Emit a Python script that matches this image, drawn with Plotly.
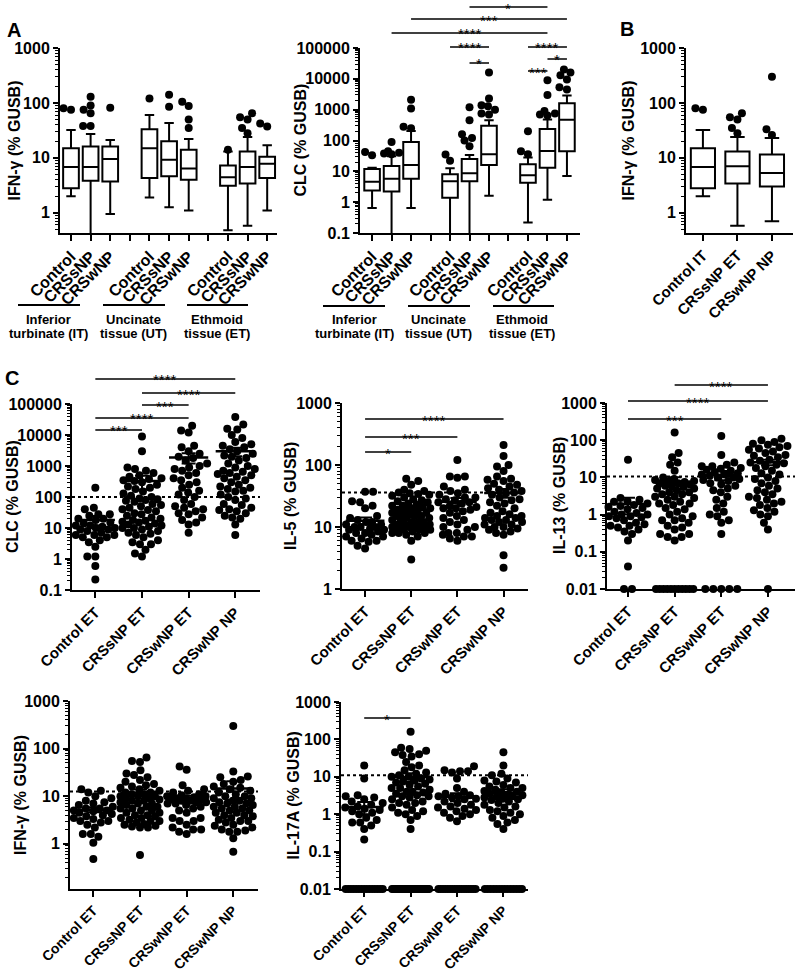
import numpy as np
import plotly.graph_objects as go

W, H = 800, 973
FONT = "Liberation Sans"

# ======================= DATA =======================
# ---- Panel A: box-plot summaries; order IT, UT, ET  x  Control, CRSsNP, CRSwNP
A_groups = ["Control", "CRSsNP", "CRSwNP"]
A_tissue_line1 = ["Inferior", "Uncinate", "Ethmoid"]
A_tissue_line2 = ["turbinate (IT)", "tissue (UT)", "tissue (ET)"]

A_ifng_low = [2.0, 0, 0.95, 1.9, 1.25, 1.1, 0.48, 0.58, 1.1]
A_ifng_q1 = [2.8, 3.8, 3.7, 4.3, 4.6, 4.0, 3.1, 3.4, 4.3]
A_ifng_med = [6.8, 6.8, 9.5, 15, 9.2, 6.4, 4.4, 6.8, 7.8]
A_ifng_q3 = [15, 16, 16, 33, 20, 14, 7.2, 13, 10.5]
A_ifng_up = [32, 27, 21, 60, 43, 22, 13, 24, 17]
A_ifng_out = [[75, 80], [38, 38, 65, 75, 90, 130], [82], [120], [85, 140],
              [35, 50, 88, 105], [14], [28, 35, 50, 55, 65], [37, 42]]

A_clc_low = [0.65, 0, 0.65, 0, 0, 1.6, 0.22, 1.2, 7]
A_clc_q1 = [2.4, 2.2, 5.8, 1.4, 4.8, 16, 4.3, 13, 45]
A_clc_med = [4.6, 5.7, 16, 4.8, 8.6, 36, 7.4, 46, 470]
A_clc_q3 = [12, 15, 90, 8, 25, 300, 17, 235, 1600]
A_clc_up = [13, 31, 205, 12.5, 34, 450, 28, 480, 2900]
A_clc_out = [[33, 42], [36, 38, 40, 45, 90], [250, 280, 1100, 2100], [22, 35],
             [65, 100, 120, 160, 450, 1200], [700, 750, 1000, 1300, 1400, 2300, 16000],
             [36, 45, 200], [650, 700, 750, 900, 3000, 9000],
             [4500, 5300, 9500, 13000, 16000, 20000]]

A_clc_sig_pairs = [(5, 9), (2, 10), (1, 9), (4, 6), (5, 6), (8, 10), (9, 10), (8, 9)]
A_clc_sig_text = ["*", "***", "****", "****", "*", "****", "*", "***"]

# ---- Panel B
B_groups = ["Control IT", "CRSsNP ET", "CRSwNP NP"]
B_ifng_low = [2.0, 0.58, 0.7]
B_ifng_q1 = [2.8, 3.4, 3.0]
B_ifng_med = [6.8, 7.0, 5.3]
B_ifng_q3 = [15, 13, 11.5]
B_ifng_up = [32, 24, 23]
B_ifng_out = [[75, 80], [28, 35, 50, 55, 65], [26, 33, 300]]

# ---- Panel C: individual values (0 = undetectable)
C_groups = ["Control ET", "CRSsNP ET", "CRSwNP ET", "CRSwNP NP"]

clc_ctrl = [200, 45, 40, 28, 28, 25, 20, 20, 18, 15, 14, 12, 12, 11, 10, 10, 9, 9, 8, 7, 6, 6, 6,
            5, 5, 4, 3.5, 2.5, 1.2, 1.2, 0.6, 0.22]
clc_ssnp = [9000, 3000, 900, 800, 700, 600, 500, 450, 400, 380, 350, 330, 300, 250, 220, 200, 180,
            150, 130, 110, 100, 90, 85, 80, 75, 70, 60, 55, 50, 45, 40, 38, 35, 30, 28, 25, 22, 20,
            18, 17, 16, 15, 14, 13, 12, 11, 10, 10, 9, 8, 7, 6.5, 6, 5, 4, 3.5, 3, 3, 2, 1.5, 1.2]
clc_wnp_et = [20000, 14000, 12000, 4500, 4000, 3000, 2500, 2000, 1800, 1500, 1200, 1000, 900, 800,
              700, 600, 500, 400, 350, 300, 250, 200, 160, 140, 120, 100, 80, 60, 50, 45, 40, 35,
              30, 28, 22, 18, 15, 13, 7]
clc_wnp_np = [38000, 22000, 16000, 15000, 10000, 8000, 6000, 5000, 4500, 4000, 3500, 3000, 2500,
              2200, 2000, 1800, 1500, 1200, 1000, 900, 800, 700, 650, 600, 550, 500, 450, 400, 350,
              300, 250, 220, 200, 180, 160, 150, 120, 100, 90, 80, 60, 55, 45, 40, 38, 35, 30, 25,
              22, 20, 13, 6]

il5_ctrl = [37, 37, 26, 25, 22, 20, 15, 14, 13, 12, 12, 11, 11, 10, 10, 10, 9.5, 9, 9, 8.5, 8, 8,
            7.5, 7, 7, 6.5, 6, 6, 5.8, 5, 4.5]
il5_ssnp = [60, 55, 48, 40, 38, 36, 35, 34, 33, 32, 30, 28, 27, 26, 25, 24, 23, 22, 22, 21, 20, 20,
            19, 18, 18, 17, 17, 16, 16, 15, 15, 15, 14, 14, 13, 13, 12, 12, 12, 11, 11, 11, 10, 10,
            10, 10, 10, 10, 9.5, 9, 9, 9, 8.5, 8, 8, 8, 7.5, 7, 6, 3]
il5_wnp_et = [120, 65, 65, 62, 45, 40, 38, 35, 33, 30, 30, 28, 27, 25, 25, 24, 22, 21, 20, 20, 19,
              18, 17, 15, 14, 13, 12, 11, 10, 10, 9, 8, 8, 7.5, 7, 7, 6.5, 6]
il5_wnp_np = [210, 140, 100, 95, 80, 65, 60, 58, 55, 50, 48, 45, 42, 40, 38, 36, 35, 33, 30, 28, 27,
              25, 24, 22, 20, 18, 17, 16, 15, 15, 14, 14, 13, 13, 12, 12, 11, 11, 10, 10, 9.5, 9,
              8.5, 8, 7.5, 3.5, 2.2]

il13_ctrl = [30, 2.8, 2.5, 2.3, 2.2, 2, 1.8, 1.7, 1.6, 1.5, 1.4, 1.2, 1.1, 1.0, 1.0, 0.9, 0.9, 0.85,
             0.8, 0.7, 0.6, 0.55, 0.5, 0.5, 0.45, 0.4, 0.35, 0.3, 0.2, 0.04, 0, 0]
il13_ssnp = [160, 45, 35, 25, 22, 15, 10, 9, 8.5, 8, 8, 7.5, 7, 7, 6.5, 6, 6, 5.5, 5, 5, 4.5, 4, 4,
             3.5, 3.5, 3, 3, 2.8, 2.5, 2.2, 2, 2, 1.8, 1.5, 1.4, 1.2, 1, 0.9, 0.8, 0.7, 0.7, 0.6,
             0.5, 0.45, 0.4, 0.3, 0.3, 0.25, 0.25, 0.2, 0, 0, 0, 0, 0, 0, 0, 0, 0, 0, 0]
il13_wnp_et = [130, 40, 25, 22, 20, 20, 18, 17, 16, 15, 14, 13, 12, 12, 11, 10, 10, 9, 8.5, 8, 7,
               6.5, 6, 5, 4.5, 4, 3, 2.5, 2, 1.5, 1.2, 1, 0.9, 0.7, 0.6, 0.3, 0, 0, 0, 0, 0]
il13_wnp_np = [110, 100, 90, 80, 75, 70, 65, 60, 55, 50, 45, 40, 38, 35, 30, 28, 25, 24, 22, 20, 18,
               15, 13, 12, 10, 9, 8, 7, 6, 5, 4.5, 4, 3.5, 3, 2.8, 2.5, 2.2, 2, 1.8, 1.5, 1.3, 1.2,
               1, 0.9, 0.6, 0.4, 0]

ifn_ctrl = [14, 13, 12, 10, 9, 8, 7.5, 7, 6.5, 6, 5.5, 5.5, 5, 5, 4.8, 4.5, 4.2, 4, 3.8, 3.5, 3.3,
            3, 3, 2.8, 2.5, 2.2, 1.6, 1.6, 1.4, 1.05, 0.48]
ifn_ssnp = [65, 55, 52, 35, 30, 28, 25, 22, 20, 18, 17, 16, 15, 14, 13, 12, 12, 11, 11, 10, 10, 10,
            9, 9, 8.5, 8, 8, 7.5, 7, 7, 6.5, 6, 6, 5.5, 5.5, 5, 5, 4.5, 4.5, 4, 4, 3.8, 3.5, 3.5,
            3.2, 3, 3, 2.8, 2.6, 2.5, 2.4, 2.3, 2.2, 2.2, 0.58]
ifn_wnp_et = [42, 36, 17, 14, 13, 12, 11, 10.5, 10, 10, 9.5, 9, 9, 8.5, 8.5, 8, 8, 7.5, 7.5, 7, 7,
              6.5, 6, 5.5, 5, 4.5, 3.5, 3.5, 3, 3, 2.5, 2.2, 2, 2, 1.8, 1.6]
ifn_wnp_np = [300, 33, 26, 25, 22, 20, 18, 16, 15, 14, 13, 12, 11, 10, 10, 9, 9, 8, 8, 7.5, 7, 7,
              6.5, 6, 6, 5.5, 5.5, 5, 5, 4.5, 4.5, 4, 4, 3.8, 3.5, 3.2, 3, 3, 2.8, 2.5, 2.4, 2.2,
              2, 1.9, 1.8, 1.8, 1.3, 0.68]

il17_ctrl = [20, 9, 3.2, 3, 2.8, 2.5, 2.2, 2, 1.8, 1.6, 1.5, 1.4, 1.3, 1.2, 1.1, 1, 0.8, 0.7, 0.6,
             0.6, 0.5, 0.4, 0.21, 0, 0, 0, 0, 0, 0, 0, 0, 0, 0, 0, 0, 0, 0, 0]
il17_ssnp = [160, 60, 55, 50, 45, 40, 38, 35, 25, 20, 18, 15, 13, 12, 11, 10, 10, 9, 8.5, 8, 7.5, 7,
             6.5, 6, 5.5, 5, 5, 4.5, 4, 4, 3.8, 3.5, 3.2, 3, 3, 2.8, 2.5, 2.2, 2, 2, 1.8, 1.5, 1.3,
             1.2, 1.1, 1, 0.9, 0.7, 0.4, 0, 0, 0, 0, 0, 0, 0, 0, 0, 0, 0, 0, 0, 0, 0, 0, 0, 0, 0,
             0, 0, 0, 0, 0, 0]
il17_wnp_et = [19, 15, 14, 14, 13, 9, 5, 4, 3.5, 3.2, 3, 3, 2.8, 2.6, 2.5, 2.2, 2, 1.8, 1.6, 1.5,
               1.4, 1.3, 1.2, 1.1, 1.0, 0.9, 0.8, 0.65, 0, 0, 0, 0, 0, 0, 0, 0, 0, 0, 0, 0, 0, 0,
               0, 0, 0]
il17_wnp_np = [45, 20, 12, 11, 9, 8, 7.5, 7, 6, 5.5, 5, 5, 4.5, 4.2, 4, 3.8, 3.5, 3.3, 3.2, 3, 3,
               2.8, 2.6, 2.5, 2.4, 2.2, 2, 1.8, 1.6, 1.5, 1.3, 1.2, 1.1, 1, 0.9, 0.8, 0.7, 0.6,
               0.55, 0.4, 0, 0, 0, 0, 0, 0, 0, 0, 0, 0, 0, 0, 0, 0]

# reference (dotted) thresholds
thr_clc, thr_il5, thr_il13, thr_ifn, thr_il17 = 100, 36, 10.5, 12.5, 11

C_clc_sig_pairs = [(0, 3), (1, 3), (1, 2), (0, 2), (0, 1)]
C_clc_sig_text = ["****", "****", "***", "****", "***"]
C_il5_sig_pairs = [(0, 3), (0, 2), (0, 1)]
C_il5_sig_text = ["****", "***", "*"]
C_il13_sig_pairs = [(1, 3), (0, 3), (0, 2)]
C_il13_sig_text = ["****", "****", "***"]
C_il17_sig_pairs = [(0, 1)]
C_il17_sig_text = ["*"]

# ======================= LAYOUT GEOMETRY (page pixels) =======================
def X(px):
    return px / W


def Y(py):
    return 1 - py / H


P = {
    1: dict(x=(60, 277), y=(48, 233), xr=(-0.56, 10.5), yr=(-0.37, 3)),
    2: dict(x=(360, 580), y=(48, 233), xr=(-0.62, 10.67), yr=(-1, 5)),
    3: dict(x=(686, 793), y=(48, 233), xr=(-0.49, 2.61), yr=(-0.37, 3)),
    4: dict(x=(72, 260), y=(404, 590), xr=(-0.5, 3.53), yr=(-1, 5)),
    5: dict(x=(342, 528), y=(403, 589), xr=(-0.5, 3.53), yr=(0, 3)),
    6: dict(x=(607, 795), y=(403, 589), xr=(-0.45, 3.58), yr=(-2, 3)),
    7: dict(x=(70, 258), y=(701, 889), xr=(-0.5, 3.53), yr=(-0.95, 3)),
    8: dict(x=(341, 528), y=(702, 889), xr=(-0.5, 3.53), yr=(-2, 3)),
}
for p in P.values():
    p["kx"] = (p["x"][1] - p["x"][0]) / (p["xr"][1] - p["xr"][0])
    p["ky"] = (p["y"][1] - p["y"][0]) / (p["yr"][1] - p["yr"][0])

DOT = 8.0


def ax(i):
    return ("x" if i == 1 else f"x{i}"), ("y" if i == 1 else f"y{i}")


def fmt(v):
    return f"{v:g}" if v < 1 else f"{int(round(v))}"


fig = go.Figure()
layout = dict(width=W, height=H, margin=dict(l=0, r=0, t=0, b=0, autoexpand=False),
              paper_bgcolor="white", plot_bgcolor="white", showlegend=False,
              template="none",
              font=dict(family=FONT, size=15, color="black"))
shapes, annos = [], []


def setup_axes(i, tickvals, ticktext, tsize=15):
    p = P[i]
    lo, hi = p["yr"]
    kmin, kmax = int(np.ceil(lo)), int(np.floor(hi))
    major = [10.0 ** k for k in range(kmin, kmax + 1)]
    minor = [m * 10.0 ** k for k in range(kmin - 1, kmax) for m in range(2, 10)
             if lo <= np.log10(m * 10.0 ** k) <= hi]
    xn = "xaxis" if i == 1 else f"xaxis{i}"
    yn = "yaxis" if i == 1 else f"yaxis{i}"
    xa, ya = ax(i)
    layout[xn] = dict(domain=[X(p["x"][0]), X(p["x"][1])], range=list(p["xr"]), anchor=ya,
                      automargin=False,
                      showline=True, linecolor="black", linewidth=2, ticks="outside", ticklen=6,
                      tickwidth=2, tickcolor="black", tickvals=tickvals,
                      ticktext=[f"<b>{t}</b>" if t else "" for t in ticktext], tickangle=-45,
                      tickfont=dict(family=FONT, size=tsize, color="black"),
                      showgrid=False, zeroline=False)
    layout[yn] = dict(domain=[Y(p["y"][1]), Y(p["y"][0])], range=list(p["yr"]), type="log",
                      anchor=xa, automargin=False,
                      showline=True, linecolor="black", linewidth=2, ticks="outside",
                      ticklen=5, tickwidth=2, tickcolor="black", tickvals=major,
                      ticktext=[f"<b>{fmt(v)}</b>" for v in major],
                      tickfont=dict(family=FONT, size=16, color="black"),
                      minor=dict(tickvals=minor, ticks="outside", ticklen=3, tickwidth=1,
                                 tickcolor="black", showgrid=False),
                      showgrid=False, zeroline=False)


def swarm(vals, i, maxw_units, zero_w_units=0.4):
    p = P[i]
    kx, ky, ylo = p["kx"], p["ky"], p["yr"][0]
    floor = 10 ** ylo
    res = [None] * len(vals)
    placed = []
    zeros = [j for j, v in enumerate(vals) if v <= floor]
    nz = len(zeros)
    if nz:
        sp = DOT if nz == 1 else min(DOT, 2 * zero_w_units * kx / (nz - 1))
        for n, j in enumerate(zeros):
            xo = (n - (nz - 1) / 2) * sp
            res[j] = (xo / kx, floor)
            placed.append((xo, ylo * ky))
    others = sorted([j for j, v in enumerate(vals) if v > floor], key=lambda j: vals[j])
    maxpx = maxw_units * kx
    d = DOT * 0.95
    for n, j in enumerate(others):
        yp = np.log10(vals[j]) * ky
        near = [(a, b) for a, b in placed if abs(b - yp) < d]
        sign = 1 if n % 2 == 0 else -1
        cands = [0.0]
        s = 0.5
        while s <= maxpx:
            cands += [sign * s, -sign * s]
            s += 0.5
        best, bestc, bests = None, 0.0, -1
        for c in cands:
            md = min([np.hypot(c - a, yp - b) for a, b in near], default=1e9)
            if md >= d:
                best = c
                break
            if md > bests:
                bests, bestc = md, c
        if best is None:
            best = bestc
        placed.append((best, yp))
        res[j] = (best / kx, vals[j])
    return res


def add_box_panel(i, pos, low, q1, med, q3, up, outs, bw, maxw):
    xa, ya = ax(i)
    floor = 10 ** (P[i]["yr"][0] - 1)
    fig.add_trace(go.Box(x=pos, q1=q1, median=med, q3=q3,
                         lowerfence=[v if v > 0 else floor for v in low], upperfence=up,
                         width=bw, fillcolor="white", line=dict(color="black", width=2),
                         whiskerwidth=0.6, boxpoints=False, xaxis=xa, yaxis=ya,
                         hoverinfo="skip"))
    xs, ys = [], []
    for k, o in enumerate(outs):
        for xo, yv in swarm(o, i, maxw):
            xs.append(pos[k] + xo)
            ys.append(yv)
    fig.add_trace(go.Scatter(x=xs, y=ys, mode="markers", cliponaxis=False,
                             marker=dict(size=DOT, color="black"), xaxis=xa, yaxis=ya))


def add_dot_panel(i, groups_vals, thr):
    xa, ya = ax(i)
    xs, ys = [], []
    for g, vals in enumerate(groups_vals):
        for xo, yv in swarm(vals, i, 0.42):
            xs.append(g + xo)
            ys.append(yv)
    fig.add_trace(go.Scatter(x=xs, y=ys, mode="markers", cliponaxis=False,
                             marker=dict(size=DOT, color="black"), xaxis=xa, yaxis=ya))
    shapes.append(dict(type="line", xref=f"{xa} domain", x0=0, x1=1, yref=ya,
                       y0=thr, y1=thr,
                       line=dict(color="black", width=2, dash="dot")))
    for g, vals in enumerate(groups_vals):
        v = np.array(vals, dtype=float)
        m = v.mean()
        sem = v.std(ddof=1) / np.sqrt(len(v))
        fig.add_trace(go.Scatter(x=[g - 0.42, g + 0.42], y=[m, m], mode="lines",
                                 line=dict(color="black", width=2.5), xaxis=xa, yaxis=ya))
        fig.add_trace(go.Scatter(x=[g], y=[m], mode="markers",
                                 marker=dict(size=1, color="rgba(0,0,0,0)"),
                                 error_y=dict(type="data", array=[sem], color="black",
                                              thickness=2, width=7),
                                 xaxis=xa, yaxis=ya))


def add_sig(i, pairs, texts, levels):
    xa, _ = ax(i)
    for (a, b), t, lv in zip(pairs, texts, levels):
        shapes.append(dict(type="line", xref=xa, yref="paper", x0=a, x1=b, y0=Y(lv), y1=Y(lv),
                           line=dict(color="black", width=1.5)))
        annos.append(dict(text=t, xref=xa, yref="paper", x=(a + b) / 2, y=Y(lv + 1),
                          xanchor="center", yanchor="middle", showarrow=False,
                          font=dict(family=FONT, size=15, color="black")))


def ytitle(text, cx, i):
    p = P[i]
    annos.append(dict(text=f"<b>{text}</b>", xref="paper", yref="paper", x=X(cx),
                      y=Y((p["y"][0] + p["y"][1]) / 2), textangle=-90, showarrow=False,
                      xanchor="center", yanchor="middle",
                      font=dict(family=FONT, size=16, color="black")))


# ---------------- Panel A ----------------
A_pos = [t * 4 + g for t in range(3) for g in range(3)]
A_ticks = list(range(11))
A_text = ["" if k % 4 == 3 else A_groups[k % 4] for k in A_ticks]

setup_axes(1, A_ticks, A_text, 16)
add_box_panel(1, A_pos, A_ifng_low, A_ifng_q1, A_ifng_med, A_ifng_q3, A_ifng_up, A_ifng_out,
              0.8, 0.4)
ytitle("IFN-γ (% GUSB)", 14, 1)

setup_axes(2, A_ticks, A_text, 16)
add_box_panel(2, A_pos, A_clc_low, A_clc_q1, A_clc_med, A_clc_q3, A_clc_up, A_clc_out, 0.8, 0.4)
ytitle("CLC (% GUSB)", 300, 2)
add_sig(2, A_clc_sig_pairs, A_clc_sig_text, [7, 19, 33, 47, 63, 47, 59, 71])

# tissue brackets under panel A
for lines_px, centers_px, ly in [([(18, 80), (103, 165), (187, 248)], [48, 133, 217], 305),
                                 ([(323, 385), (408, 470), (493, 554)], [354, 438, 522], 306)]:
    for (x0, x1), cx, l1, l2 in zip(lines_px, centers_px, A_tissue_line1, A_tissue_line2):
        shapes.append(dict(type="line", xref="paper", yref="paper", x0=X(x0), x1=X(x1),
                           y0=Y(ly), y1=Y(ly), line=dict(color="black", width=2)))
        annos.append(dict(text=f"<b>{l1}</b>", xref="paper", yref="paper", x=X(cx), y=Y(319),
                          showarrow=False, xanchor="center", yanchor="middle",
                          font=dict(family=FONT, size=13, color="black")))
        annos.append(dict(text=f"<b>{l2}</b>", xref="paper", yref="paper", x=X(cx), y=Y(334),
                          showarrow=False, xanchor="center", yanchor="middle",
                          font=dict(family=FONT, size=13, color="black")))

# ---------------- Panel B ----------------
setup_axes(3, [0, 1, 2], B_groups, 15)
add_box_panel(3, [0, 1, 2], B_ifng_low, B_ifng_q1, B_ifng_med, B_ifng_q3, B_ifng_up, B_ifng_out,
              0.7, 0.35)
ytitle("IFN-γ (% GUSB)", 628, 3)

# ---------------- Panel C ----------------
C_ticks = [0, 1, 2, 3]
setup_axes(4, C_ticks, C_groups, 15)
add_dot_panel(4, [clc_ctrl, clc_ssnp, clc_wnp_et, clc_wnp_np], thr_clc)
add_sig(4, C_clc_sig_pairs, C_clc_sig_text, [379, 393, 405, 418, 430])
ytitle("CLC (% GUSB)", 12, 4)

setup_axes(5, C_ticks, C_groups, 15)
add_dot_panel(5, [il5_ctrl, il5_ssnp, il5_wnp_et, il5_wnp_np], thr_il5)
add_sig(5, C_il5_sig_pairs, C_il5_sig_text, [419, 437, 452])
ytitle("IL-5 (% GUSB)", 290, 5)

setup_axes(6, C_ticks, C_groups, 15)
add_dot_panel(6, [il13_ctrl, il13_ssnp, il13_wnp_et, il13_wnp_np], thr_il13)
add_sig(6, C_il13_sig_pairs, C_il13_sig_text, [385, 401, 419])
ytitle("IL-13 (% GUSB)", 559, 6)

setup_axes(7, C_ticks, C_groups, 14)
add_dot_panel(7, [ifn_ctrl, ifn_ssnp, ifn_wnp_et, ifn_wnp_np], thr_ifn)
ytitle("IFN-γ (% GUSB)", 20, 7)

setup_axes(8, C_ticks, C_groups, 14)
add_dot_panel(8, [il17_ctrl, il17_ssnp, il17_wnp_et, il17_wnp_np], thr_il17)
add_sig(8, C_il17_sig_pairs, C_il17_sig_text, [718])
ytitle("IL-17A (% GUSB)", 293, 8)

# panel letters
for letter, (cx, cy) in zip(["A", "B", "C"], [(14, 30), (627, 29), (12, 378)]):
    annos.append(dict(text=f"<b>{letter}</b>", xref="paper", yref="paper", x=X(cx), y=Y(cy),
                      showarrow=False, xanchor="center", yanchor="middle",
                      font=dict(family=FONT, size=20, color="black")))

layout["shapes"] = shapes
layout["annotations"] = annos
fig.update_layout(**layout)
fig.write_html("out.html", config={"displayModeBar": False, "staticPlot": True},
               post_script="document.body.style.margin='0px';"
                           "document.body.style.overflow='hidden';")
